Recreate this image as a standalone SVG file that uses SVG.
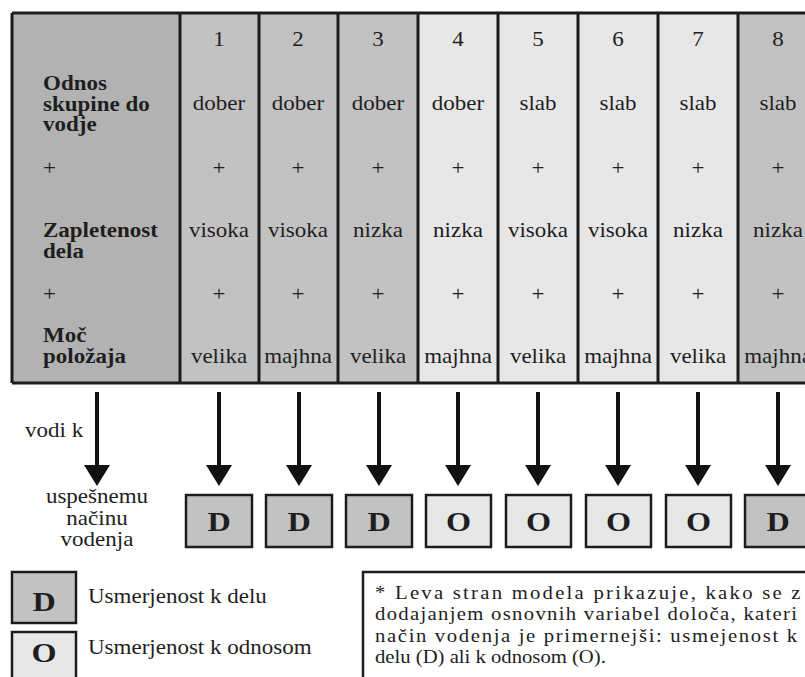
<svg xmlns="http://www.w3.org/2000/svg" width="805" height="677" viewBox="0 0 805 677">
  <style>
    text { font-family: "Liberation Serif", "Times New Roman", serif; fill: #1e1e1e; }
    .val { font-size: 20px; text-anchor: middle; }
    .lbl { font-size: 20px; font-weight: bold; }
    .plain { font-size: 20px; }
    .ctr { text-anchor: middle; }
    .big { font-size: 28px; font-weight: bold; text-anchor: middle; }
    .note { font-size: 18px; }
    .grid { stroke: #1c1c1c; stroke-width: 3; fill: none; }
    .dark { fill: #b2b2b2; }
    .mid { fill: #c2c2c2; }
    .light { fill: #e7e7e7; }
    .box { stroke: #1c1c1c; stroke-width: 2.5; }
    .arrow { stroke: #111; stroke-width: 4; fill: none; marker-end: url(#head); }
  </style>
  <defs>
    <marker id="head" markerUnits="userSpaceOnUse" markerWidth="21" markerHeight="26" refX="0" refY="13" orient="auto" viewBox="0 0 21 26">
      <path d="M0,0 L21,13 L0,26 Z" fill="#111"/>
    </marker>
  </defs>
  <rect width="805" height="677" fill="#ffffff"/>

  <!-- table columns -->
  <g id="table">
    <rect class="dark" x="12" y="13" width="168" height="370"/>
    <rect class="mid" x="180" y="13" width="158" height="370"/>
    <rect class="mid" x="338" y="13" width="80" height="370"/>
    <rect class="light" x="418" y="13" width="320" height="370"/>
    <rect class="mid" x="738" y="13" width="80" height="370"/>
    <path class="grid" d="M12,13 H805 M12,383 H805 M12,13 V383 M180,13 V383 M259,13 V383 M338,13 V383 M418,13 V383 M498,13 V383 M578,13 V383 M658,13 V383 M738,13 V383"/>
  </g>

  <!-- row labels -->
  <g id="labels">
    <text class="lbl" transform="translate(43,90) scale(1.15,1)">Odnos</text>
    <text class="lbl" transform="translate(43,111) scale(1.15,1)">skupine do</text>
    <text class="lbl" transform="translate(43,131) scale(1.15,1)">vodje</text>
    <text class="plain" transform="translate(43,175) scale(1.15,1)">+</text>
    <text class="lbl" transform="translate(43,237) scale(1.15,1)">Zapletenost</text>
    <text class="lbl" transform="translate(43,258) scale(1.15,1)">dela</text>
    <text class="plain" transform="translate(43,301) scale(1.15,1)">+</text>
    <text class="lbl" transform="translate(43,342) scale(1.15,1)">Moč</text>
    <text class="lbl" transform="translate(43,363) scale(1.15,1)">položaja</text>
  </g>

  <!-- situations 1..8 -->
  <g id="col1">
    <text class="val" transform="translate(219,46) scale(1.15,1)">1</text>
    <text class="val" transform="translate(219,110) scale(1.15,1)">dober</text>
    <text class="val" transform="translate(219,175) scale(1.15,1)">+</text>
    <text class="val" transform="translate(219,237) scale(1.15,1)">visoka</text>
    <text class="val" transform="translate(219,301) scale(1.15,1)">+</text>
    <text class="val" transform="translate(219,363) scale(1.15,1)">velika</text>
  </g>
  <g id="col2">
    <text class="val" transform="translate(298,46) scale(1.15,1)">2</text>
    <text class="val" transform="translate(298,110) scale(1.15,1)">dober</text>
    <text class="val" transform="translate(298,175) scale(1.15,1)">+</text>
    <text class="val" transform="translate(298,237) scale(1.15,1)">visoka</text>
    <text class="val" transform="translate(298,301) scale(1.15,1)">+</text>
    <text class="val" transform="translate(298,363) scale(1.15,1)">majhna</text>
  </g>
  <g id="col3">
    <text class="val" transform="translate(378,46) scale(1.15,1)">3</text>
    <text class="val" transform="translate(378,110) scale(1.15,1)">dober</text>
    <text class="val" transform="translate(378,175) scale(1.15,1)">+</text>
    <text class="val" transform="translate(378,237) scale(1.15,1)">nizka</text>
    <text class="val" transform="translate(378,301) scale(1.15,1)">+</text>
    <text class="val" transform="translate(378,363) scale(1.15,1)">velika</text>
  </g>
  <g id="col4">
    <text class="val" transform="translate(458,46) scale(1.15,1)">4</text>
    <text class="val" transform="translate(458,110) scale(1.15,1)">dober</text>
    <text class="val" transform="translate(458,175) scale(1.15,1)">+</text>
    <text class="val" transform="translate(458,237) scale(1.15,1)">nizka</text>
    <text class="val" transform="translate(458,301) scale(1.15,1)">+</text>
    <text class="val" transform="translate(458,363) scale(1.15,1)">majhna</text>
  </g>
  <g id="col5">
    <text class="val" transform="translate(538,46) scale(1.15,1)">5</text>
    <text class="val" transform="translate(538,110) scale(1.15,1)">slab</text>
    <text class="val" transform="translate(538,175) scale(1.15,1)">+</text>
    <text class="val" transform="translate(538,237) scale(1.15,1)">visoka</text>
    <text class="val" transform="translate(538,301) scale(1.15,1)">+</text>
    <text class="val" transform="translate(538,363) scale(1.15,1)">velika</text>
  </g>
  <g id="col6">
    <text class="val" transform="translate(618,46) scale(1.15,1)">6</text>
    <text class="val" transform="translate(618,110) scale(1.15,1)">slab</text>
    <text class="val" transform="translate(618,175) scale(1.15,1)">+</text>
    <text class="val" transform="translate(618,237) scale(1.15,1)">visoka</text>
    <text class="val" transform="translate(618,301) scale(1.15,1)">+</text>
    <text class="val" transform="translate(618,363) scale(1.15,1)">majhna</text>
  </g>
  <g id="col7">
    <text class="val" transform="translate(698,46) scale(1.15,1)">7</text>
    <text class="val" transform="translate(698,110) scale(1.15,1)">slab</text>
    <text class="val" transform="translate(698,175) scale(1.15,1)">+</text>
    <text class="val" transform="translate(698,237) scale(1.15,1)">nizka</text>
    <text class="val" transform="translate(698,301) scale(1.15,1)">+</text>
    <text class="val" transform="translate(698,363) scale(1.15,1)">velika</text>
  </g>
  <g id="col8">
    <text class="val" transform="translate(778,46) scale(1.15,1)">8</text>
    <text class="val" transform="translate(778,110) scale(1.15,1)">slab</text>
    <text class="val" transform="translate(778,175) scale(1.15,1)">+</text>
    <text class="val" transform="translate(778,237) scale(1.15,1)">nizka</text>
    <text class="val" transform="translate(778,301) scale(1.15,1)">+</text>
    <text class="val" transform="translate(778,363) scale(1.15,1)">majhna</text>
  </g>

  <!-- connectors -->
  <g id="connectors">
    <line class="arrow" x1="97" y1="392" x2="97" y2="465"/>
    <line class="arrow" x1="219" y1="392" x2="219" y2="465"/>
    <line class="arrow" x1="299" y1="392" x2="299" y2="465"/>
    <line class="arrow" x1="379" y1="392" x2="379" y2="465"/>
    <line class="arrow" x1="458" y1="392" x2="458" y2="465"/>
    <line class="arrow" x1="538" y1="392" x2="538" y2="465"/>
    <line class="arrow" x1="618" y1="392" x2="618" y2="465"/>
    <line class="arrow" x1="698" y1="392" x2="698" y2="465"/>
    <line class="arrow" x1="778" y1="392" x2="778" y2="465"/>
  </g>

  <!-- left-hand captions -->
  <g id="caption">
    <text class="plain" transform="translate(25,437) scale(1.15,1)">vodi k</text>
    <text class="plain ctr" transform="translate(97,503) scale(1.15,1)">uspešnemu</text>
    <text class="plain ctr" transform="translate(97,525) scale(1.15,1)">načinu</text>
    <text class="plain ctr" transform="translate(97,546) scale(1.15,1)">vodenja</text>
  </g>

  <!-- resulting leadership styles -->
  <g id="res1"><rect class="box mid" x="186" y="495" width="66" height="52"/><text class="big" transform="translate(219,531) scale(1.15,1)">D</text></g>
  <g id="res2"><rect class="box mid" x="266" y="495" width="66" height="52"/><text class="big" transform="translate(299,531) scale(1.15,1)">D</text></g>
  <g id="res3"><rect class="box mid" x="346" y="495" width="66" height="52"/><text class="big" transform="translate(379,531) scale(1.15,1)">D</text></g>
  <g id="res4"><rect class="box light" x="426" y="495" width="65" height="52"/><text class="big" transform="translate(458.5,531) scale(1.15,1)">O</text></g>
  <g id="res5"><rect class="box light" x="506" y="495" width="65" height="52"/><text class="big" transform="translate(538.5,531) scale(1.15,1)">O</text></g>
  <g id="res6"><rect class="box light" x="586" y="495" width="65" height="52"/><text class="big" transform="translate(618.5,531) scale(1.15,1)">O</text></g>
  <g id="res7"><rect class="box light" x="666" y="495" width="65" height="52"/><text class="big" transform="translate(698.5,531) scale(1.15,1)">O</text></g>
  <g id="res8"><rect class="box mid" x="745" y="495" width="66" height="52"/><text class="big" transform="translate(778,531) scale(1.15,1)">D</text></g>

  <!-- legend -->
  <g id="legend-d">
    <rect class="box mid" x="12" y="572" width="64" height="51"/>
    <text class="big" transform="translate(44,611) scale(1.15,1)">D</text>
    <text class="plain" transform="translate(88,603) scale(1.15,1)">Usmerjenost k delu</text>
  </g>
  <g id="legend-o">
    <rect class="box light" x="12" y="632" width="64" height="60"/>
    <text class="big" transform="translate(44,662) scale(1.15,1)">O</text>
    <text class="plain" transform="translate(88,654) scale(1.15,1)">Usmerjenost k odnosom</text>
  </g>

  <!-- explanatory note -->
  <g id="note">
    <rect x="363" y="572" width="470" height="130" fill="#ffffff" stroke="#1c1c1c" stroke-width="2.5"/>
    <text class="note" transform="translate(375,599) scale(1.15,1)" textLength="370" lengthAdjust="spacing">* Leva stran modela prikazuje, kako se z</text>
    <text class="note" transform="translate(375,620) scale(1.15,1)" textLength="367" lengthAdjust="spacing">dodajanjem osnovnih variabel določa, kateri</text>
    <text class="note" transform="translate(375,642) scale(1.15,1)" textLength="367" lengthAdjust="spacing">način vodenja je primernejši: usmejenost k</text>
    <text class="note" transform="translate(375,663) scale(1.15,1)">delu (D) ali k odnosom (O).</text>
  </g>
</svg>
